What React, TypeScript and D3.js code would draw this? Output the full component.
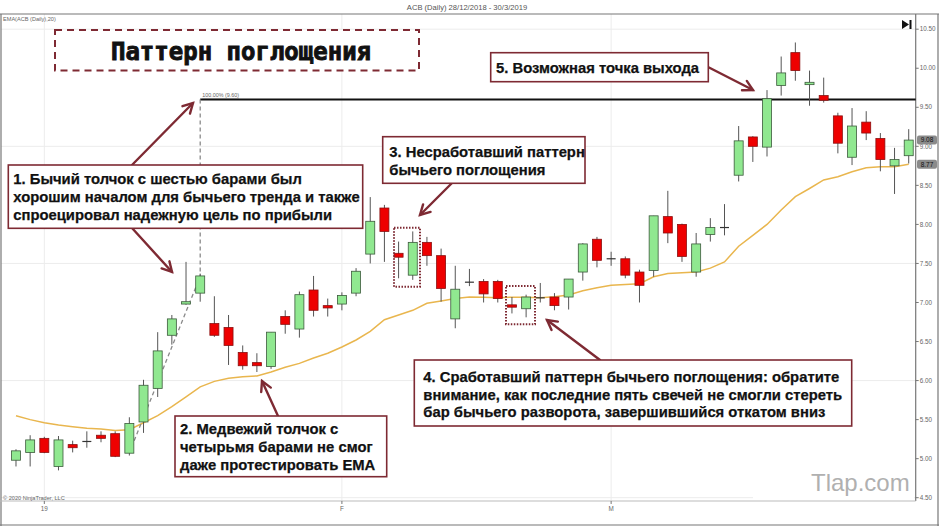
import React from "react";
import * as d3 from "d3";

// ---- Data ----
const opens = [4.98,5.08,5.26,4.90,5.18,5.215,5.30,5.32,5.07,5.47,5.90,6.58,6.98,7.12,6.73,6.68,6.36,6.23,6.18,6.82,6.66,7.16,6.96,6.98,7.12,7.62,8.21,7.63,7.35,7.77,7.60,6.79,7.25,7.27,7.27,6.97,6.92,7.06,7.07,7.07,7.39,7.81,7.57,7.56,7.39,7.41,8.10,8.00,7.39,7.87,7.96,8.63,9.12,8.99,9.78,10.20,9.79,9.65,9.39,8.86,9.31,9.10,8.75,8.88];
const highs = [5.12,5.30,5.28,5.29,5.23,5.35,5.35,5.35,5.53,6.01,6.62,6.84,7.52,7.37,7.08,6.84,6.45,6.35,6.62,6.90,7.14,7.34,7.05,7.13,7.44,8.35,8.25,7.78,7.91,7.84,7.69,7.47,7.43,7.30,7.29,7.07,7.10,7.25,7.12,7.30,7.76,7.84,7.65,7.59,7.42,8.11,8.43,8.01,7.89,8.08,8.26,9.26,9.13,9.72,10.15,10.33,9.97,9.88,9.43,9.49,9.45,9.17,8.98,9.22];
const lows = [4.90,4.90,5.07,4.85,5.08,5.14,5.21,5.02,5.04,5.33,5.79,6.46,6.97,7.01,6.56,6.20,6.14,6.11,6.15,6.60,6.55,6.82,6.82,6.90,7.08,7.50,7.52,7.31,7.29,7.47,7.01,6.67,7.21,7.00,7.00,6.86,6.81,7.00,6.90,6.91,7.28,7.45,7.47,7.31,7.00,7.33,7.76,7.52,7.33,7.78,7.86,8.55,8.80,8.87,9.65,9.84,9.52,9.56,8.91,8.76,9.08,8.68,8.39,8.78];
const closes = [5.10,5.24,5.08,5.24,5.14,5.22,5.26,5.03,5.45,5.94,6.38,6.79,7.01,7.34,6.58,6.45,6.19,6.19,6.62,6.72,7.10,6.90,6.93,7.09,7.40,8.04,7.91,7.58,7.77,7.60,7.18,7.17,7.26,7.11,7.05,6.94,7.07,7.06,6.96,7.30,7.75,7.54,7.56,7.35,7.22,8.11,7.89,7.59,7.75,7.96,7.96,9.07,9.00,9.61,9.94,9.97,9.82,9.59,9.04,9.26,9.17,8.83,8.83,9.08];
const ema20 = [5.55,5.50,5.46,5.43,5.41,5.39,5.38,5.36,5.37,5.46,5.55,5.665,5.79,5.92,5.99,6.03,6.05,6.06,6.11,6.17,6.22,6.29,6.35,6.43,6.52,6.63,6.78,6.84,6.90,6.99,7.02,7.05,7.07,7.067,7.062,7.067,7.067,7.062,7.074,7.096,7.15,7.19,7.22,7.23,7.24,7.33,7.37,7.38,7.39,7.44,7.52,7.72,7.86,8.00,8.185,8.355,8.46,8.57,8.61,8.675,8.726,8.739,8.739,8.77];
const dojiIdx = [5, 32, 37, 42, 50];
const yTicks = [4.5,5.0,5.5,6.0,6.5,7.0,7.5,8.0,8.5,9.0,9.5,10.0,10.5];
const yGrid = [4.5, 6.0, 7.5, 9.0, 10.5];
const xTickIdx = [2, 23, 42];
const xTickLabels = ["19", "F", "M"];
const targetLevel = 9.6;
const lastClose = 9.08;
const lastEma = 8.77;

const DARK_RED = "#7e2a33";

function Arrow({ x1, y1, x2, y2 }: { x1: number; y1: number; x2: number; y2: number }) {
  const a = Math.atan2(y2 - y1, x2 - x1);
  const L = 11, w = 0.5;
  const p1 = [x2 - L * Math.cos(a - w), y2 - L * Math.sin(a - w)];
  const p2 = [x2 - L * Math.cos(a + w), y2 - L * Math.sin(a + w)];
  return (
    <g stroke={DARK_RED} strokeWidth={2.4} fill="none" strokeLinecap="round">
      <line x1={x1} y1={y1} x2={x2} y2={y2} />
      <polyline points={`${p1[0]},${p1[1]} ${x2},${y2} ${p2[0]},${p2[1]}`} />
    </g>
  );
}

function TextBox({ x, y, w, h, tx, lines, base, step }: { x: number; y: number; w: number; h: number; tx: number; lines: string[]; base: number; step: number }) {
  return (
    <g>
      <rect x={x} y={y} width={w} height={h} fill="#fff" stroke={DARK_RED} strokeWidth={1.6} />
      {lines.map((l, i) => (
        <text key={i} x={tx} y={base + i * step} fontFamily="Liberation Sans, Arial, sans-serif" fontWeight="bold" fontSize={14.8} fill="#111" stroke="#111" strokeWidth={0.25}>{l}</text>
      ))}
    </g>
  );
}

export default function App() {
  const W = 939, H = 526;
  const idx = d3.range(opens.length);
  const x = d3.scaleBand<number>().domain(idx).range([8.9, 915.8]).paddingInner(0.36).paddingOuter(0.18);
  const y = d3.scaleLinear().domain([4.5, 10.5]).range([497.7, 29.2]);
  const cx = (i: number) => (x(i) as number) + x.bandwidth() / 2;
  const bw = 9;
  const plotL = 1, plotR = 915.7, plotT = 14, plotB = 501;

  const emaLine = d3.line<number>().x((_, i) => cx(i)).y((d) => y(d)).curve(d3.curveLinear)(ema20) || "";

  const tx = cx(13);
  const dashedPath = `M${tx},${y(targetLevel)} L${tx},${y(closes[13]) + 0.5} L${cx(8)},${y(opens[8]) - 0.5}`;

  return (
    <svg width={W} height={H} style={{ position: "absolute", left: 0, top: 0, background: "#fff" }} fontFamily="Liberation Sans, Arial, sans-serif">
      <rect x={0} y={0} width={W} height={H} fill="#fff" />
      {/* header */}
      <text x={467} y={9.5} textAnchor="middle" fontSize={7.6} fill="#555">ACB (Daily)  28/12/2018 - 30/3/2019</text>

      {/* grid */}
      {yGrid.map((v) => (
        <line key={v} x1={plotL} x2={plotR} y1={y(v)} y2={y(v)} stroke="#ececec" strokeWidth={1} />
      ))}
      {xTickIdx.map((i) => (
        <line key={i} x1={cx(i)} x2={cx(i)} y1={plotT} y2={plotB} stroke="#ececec" strokeWidth={1} />
      ))}

      {/* frame */}
      <line x1={0} x2={W} y1={plotT} y2={plotT} stroke="#777" strokeWidth={1.2} />
      <line x1={1} x2={1} y1={plotT} y2={H} stroke="#777" strokeWidth={1.2} />
      <line x1={plotR} x2={plotR} y1={plotT} y2={plotB} stroke="#777" strokeWidth={1.2} />
      <line x1={938} x2={938} y1={plotT} y2={H} stroke="#777" strokeWidth={1.2} />
      <line x1={0} x2={plotR} y1={plotB} y2={plotB} stroke="#bbb" strokeWidth={1} />
      <line x1={0} x2={W} y1={525} y2={525} stroke="#777" strokeWidth={1.2} />

      {/* y axis */}
      {yTicks.map((v) => (
        <g key={v}>
          <line x1={plotR} x2={plotR + 3} y1={y(v)} y2={y(v)} stroke="#777" />
          <text x={plotR + 4} y={y(v) + 2.2} fontSize={6.3} fill="#666">{v.toFixed(2)}</text>
        </g>
      ))}
      {/* x axis */}
      {xTickIdx.map((i, k) => (
        <g key={i}>
          <line x1={cx(i)} x2={cx(i)} y1={plotB} y2={plotB + 3} stroke="#777" />
          <text x={cx(i)} y={511} textAnchor="middle" fontSize={6.3} fill="#666">{xTickLabels[k]}</text>
        </g>
      ))}

      {/* small labels */}
      <text x={3} y={21} fontSize={5.6} fill="#666">EMA(ACB (Daily),20)</text>
      <text x={3} y={500} fontSize={5.6} fill="#666">© 2020 NinjaTrader, LLC</text>

      {/* watermark */}
      <rect x={753} y={462} width={161} height={37} fill="#fff" />
      <text x={811} y={491} fontSize={24} fill="#b0b0b0" fontFamily="Liberation Sans, Arial, sans-serif">Tlap.com</text>

      {/* EMA */}
      <path d={emaLine} fill="none" stroke="#e9b64e" strokeWidth={1.5} />

      {/* target line */}
      <line x1={tx} x2={plotR} y1={y(targetLevel)} y2={y(targetLevel)} stroke="#111" strokeWidth={2} />
      <text x={tx + 2} y={y(targetLevel) - 2.5} fontSize={5.4} fill="#666" textDecoration="underline">100.00% (9.60)</text>
      <path d={dashedPath} fill="none" stroke="#8a8a8a" strokeWidth={1.3} strokeDasharray="4,3" />

      {/* candles */}
      {idx.map((i) => {
        const o = opens[i], c = closes[i];
        const isDoji = dojiIdx.includes(i);
        const up = c >= o;
        const top = y(Math.max(o, c)), bot = y(Math.min(o, c));
        const x0 = cx(i);
        return (
          <g key={i}>
            <line x1={x0} x2={x0} y1={y(highs[i])} y2={y(lows[i])} stroke="#555" strokeWidth={1} />
            {isDoji ? (
              <line x1={x0 - bw / 2} x2={x0 + bw / 2} y1={y(c)} y2={y(c)} stroke="#333" strokeWidth={1.2} />
            ) : (
              <rect x={x0 - bw / 2} y={top} width={bw} height={Math.max(bot - top, 2)} fill={up ? "#90e890" : "#ee0000"} stroke={up ? "#3c5a3c" : "#8a1010"} strokeWidth={0.8} />
            )}
          </g>
        );
      })}

      {/* price labels */}
      <rect x={917} y={y(lastClose) - 4.5} width={20} height={9} rx={2} fill="#8a8a8a" />
      <text x={927} y={y(lastClose) + 2.3} textAnchor="middle" fontSize={6.5} fill="#111">{lastClose.toFixed(2)}</text>
      <rect x={917} y={y(lastEma) - 4.5} width={20} height={9} rx={2} fill="#8a8a8a" />
      <text x={927} y={y(lastEma) + 2.3} textAnchor="middle" fontSize={6.5} fill="#111">{lastEma.toFixed(2)}</text>

      {/* play icon */}
      <path d="M902,20 L909,24.5 L902,29 Z" fill="#111" />
      <rect x={909.5} y={20} width={2} height={9} fill="#111" />

      {/* dotted highlight rectangles */}
      <rect x={394} y={227.7} width={26} height={59} fill="none" stroke={DARK_RED} strokeWidth={2} strokeDasharray="1.5,1.5" />
      <rect x={506} y={286} width={29} height={38.3} fill="none" stroke={DARK_RED} strokeWidth={2} strokeDasharray="1.5,1.5" />

      {/* title box */}
      <rect x={55} y={30} width={364} height={40.5} fill="#fff" stroke={DARK_RED} strokeWidth={2} strokeDasharray="7,5" />
      <text x={241} y={60} textAnchor="middle" fontFamily="DejaVu Sans Mono, monospace" fontWeight="bold" fontSize={24} fill="#111" stroke="#111" strokeWidth={0.9}>Паттерн поглощения</text>

      {/* arrows */}
      <Arrow x1={132} y1={165} x2={193} y2={103} />
      <Arrow x1={132} y1={228} x2={172} y2={272} />
      <Arrow x1={278} y1={416} x2={262} y2={381} />
      <Arrow x1={452} y1={183} x2={420} y2={215} />
      <Arrow x1={600} y1={360} x2={547} y2={320} />
      <Arrow x1={708} y1={67} x2={753} y2={90} />

      {/* annotation boxes */}
      <TextBox x={8.3} y={165} w={354.4} h={63.3} tx={13.3} base={184.3} step={17.8}
        lines={["1. Бычий толчок с шестью барами был", "хорошим началом для бычьего тренда и также", "спроецировал надежную цель по прибыли"]} />
      <TextBox x={175} y={416} w={211.7} h={60.7} tx={180} base={434} step={18}
        lines={["2. Медвежий толчок с", "четырьмя барами не смог", "даже протестировать EMA"]} />
      <TextBox x={382.7} y={136.7} w={202.3} h={46.6} tx={389.3} base={157.3} step={17.7}
        lines={["3. Несработавший паттерн", "бычьего поглощения"]} />
      <TextBox x={414.3} y={360} w={437.4} h={66} tx={423.3} base={381.7} step={17.8}
        lines={["4. Сработавший паттерн бычьего поглощения: обратите", "внимание, как последние пять свечей не смогли стереть", "бар бычьего разворота, завершившийся откатом вниз"]} />
      <TextBox x={490.7} y={52.7} w={217.6} h={29} tx={496} base={72.7} step={18}
        lines={["5. Возможная точка выхода"]} />
    </svg>
  );
}
